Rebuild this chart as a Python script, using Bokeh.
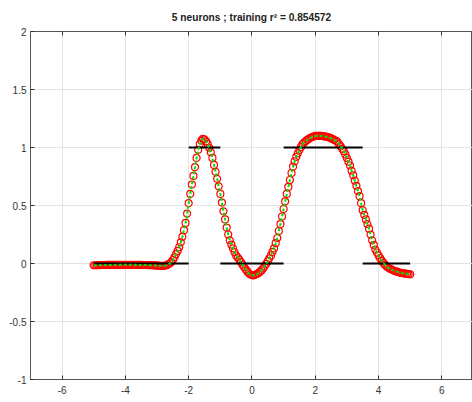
from bokeh.plotting import figure
from bokeh.models import FixedTicker, LinearAxis, Range1d, Title, ColumnDataSource
from bokeh.embed import file_html
from bokeh.resources import INLINE

title_text = "5 neurons ; training r\u00b2 = 0.854572"

# network output at the training inputs
x_out = [
    -5.0, -4.95, -4.9, -4.85, -4.8, -4.75, -4.7, -4.65, -4.6, -4.55, -4.5, -4.45, -4.4, -4.35, -4.3, -4.25, -4.2, -4.15, -4.1, -4.05,
    -4.0, -3.95, -3.9, -3.85, -3.8, -3.75, -3.7, -3.65, -3.6, -3.55, -3.5, -3.45, -3.4, -3.35, -3.3, -3.25, -3.2, -3.15, -3.1, -3.05,
    -3.0, -2.95, -2.9, -2.85, -2.8, -2.75, -2.7, -2.65, -2.6, -2.55, -2.5, -2.45, -2.4, -2.35, -2.3, -2.25, -2.2, -2.15, -2.1, -2.05,
    -2.0, -1.95, -1.9, -1.85, -1.8, -1.75, -1.7, -1.65, -1.6, -1.55, -1.5, -1.45, -1.4, -1.35, -1.3, -1.25, -1.2, -1.15, -1.1, -1.05,
    -1.0, -0.95, -0.9, -0.85, -0.8, -0.75, -0.7, -0.65, -0.6, -0.55, -0.5, -0.45, -0.4, -0.35, -0.3, -0.25, -0.2, -0.15, -0.1, -0.05,
    0.0, 0.05, 0.1, 0.15, 0.2, 0.25, 0.3, 0.35, 0.4, 0.45, 0.5, 0.55, 0.6, 0.65, 0.7, 0.75, 0.8, 0.85, 0.9, 0.95,
    1.0, 1.05, 1.1, 1.15, 1.2, 1.25, 1.3, 1.35, 1.4, 1.45, 1.5, 1.55, 1.6, 1.65, 1.7, 1.75, 1.8, 1.85, 1.9, 1.95,
    2.0, 2.05, 2.1, 2.15, 2.2, 2.25, 2.3, 2.35, 2.4, 2.45, 2.5, 2.55, 2.6, 2.65, 2.7, 2.75, 2.8, 2.85, 2.9, 2.95,
    3.0, 3.05, 3.1, 3.15, 3.2, 3.25, 3.3, 3.35, 3.4, 3.45, 3.5, 3.55, 3.6, 3.65, 3.7, 3.75, 3.8, 3.85, 3.9, 3.95,
    4.0, 4.05, 4.1, 4.15, 4.2, 4.25, 4.3, 4.35, 4.4, 4.45, 4.5, 4.55, 4.6, 4.65, 4.7, 4.75, 4.8, 4.85, 4.9, 4.95, 5.0]
y_out = [
    -0.015, -0.015, -0.014, -0.014, -0.014, -0.013, -0.013, -0.013, -0.012, -0.012, -0.012, -0.012, -0.012, -0.012, -0.011, -0.011, -0.011, -0.011, -0.011, -0.011,
    -0.011, -0.011, -0.011, -0.011, -0.011, -0.011, -0.011, -0.012, -0.012, -0.012, -0.012, -0.013, -0.013, -0.013, -0.014, -0.014, -0.015, -0.015, -0.016, -0.017,
    -0.018, -0.019, -0.02, -0.02, -0.02, -0.018, -0.015, -0.008, 0.0, 0.013, 0.03, 0.052, 0.08, 0.108, 0.14, 0.182, 0.23, 0.287, 0.35, 0.43,
    0.52, 0.60, 0.68, 0.755, 0.83, 0.91, 0.98, 1.03, 1.06, 1.075, 1.07, 1.053, 1.03, 0.998, 0.96, 0.91, 0.85, 0.79, 0.73, 0.665,
    0.60, 0.525, 0.45, 0.38, 0.31, 0.25, 0.20, 0.162, 0.13, 0.098, 0.07, 0.052, 0.035, 0.012, -0.01, -0.03, -0.05, -0.068, -0.085, -0.095,
    -0.10, -0.103, -0.098, -0.092, -0.085, -0.073, -0.06, -0.043, -0.025, -0.003, 0.02, 0.045, 0.07, 0.10, 0.13, 0.175, 0.22, 0.28, 0.34, 0.405,
    0.47, 0.535, 0.60, 0.66, 0.72, 0.78, 0.835, 0.88, 0.92, 0.95, 0.98, 1.005, 1.03, 1.043, 1.055, 1.065, 1.075, 1.083, 1.09, 1.095,
    1.10, 1.10, 1.10, 1.10, 1.10, 1.098, 1.095, 1.093, 1.09, 1.085, 1.08, 1.073, 1.065, 1.058, 1.05, 1.03, 1.01, 0.99, 0.97, 0.94,
    0.91, 0.878, 0.845, 0.80, 0.76, 0.715, 0.67, 0.625, 0.58, 0.52, 0.46, 0.42, 0.38, 0.34, 0.30, 0.25, 0.20, 0.16, 0.12, 0.095,
    0.07, 0.047, 0.025, 0.007, -0.01, -0.023, -0.035, -0.043, -0.05, -0.057, -0.063, -0.068, -0.072, -0.076, -0.08, -0.083, -0.085, -0.088, -0.09, -0.092, -0.093]

# target step function segments
target_x0 = [-5.0, -2.0, -1.0, 1.0, 3.5]
target_x1 = [-2.0, -1.0, 1.0, 3.5, 5.0]
target_y = [0.0, 1.0, 0.0, 1.0, 0.0]

x_ticks = [-6, -4, -2, 0, 2, 4, 6]
x_tick_labels = ["-6", "-4", "-2", "0", "2", "4", "6"]
y_ticks = [-1, -0.5, 0, 0.5, 1, 1.5, 2]
y_tick_labels = ["-1", "-0.5", "0", "0.5", "1", "1.5", "2"]

p = figure(width=472, height=402, output_backend="svg", toolbar_location=None,
           x_range=Range1d(-7, 6.97), y_range=Range1d(-1, 2),
           min_border_left=30, min_border_right=0, min_border_top=31, min_border_bottom=23)
p.title = Title(text=title_text, align="center", text_font="Liberation Sans",
                text_font_size="10.2px", text_font_style="bold", text_color="#222222",
                standoff=18, offset=0)
p.outline_line_color = "#555555"
p.outline_line_width = 1
p.background_fill_color = "white"
p.border_fill_color = "white"

for ax, ticks, labels in ((p.xaxis[0], x_ticks, x_tick_labels), (p.yaxis[0], y_ticks, y_tick_labels)):
    ax.ticker = FixedTicker(ticks=ticks)
    ax.major_label_overrides = {t: l for t, l in zip(ticks, labels)}
    ax.major_tick_in = 4
    ax.major_tick_out = 0
    ax.minor_tick_in = 0
    ax.minor_tick_out = 0
    ax.axis_line_color = "#555555"
    ax.major_tick_line_color = "#333333"
    ax.major_label_text_font = "Liberation Sans"
    ax.major_label_text_font_size = "10px"
    ax.major_label_text_color = "#333333"
p.xaxis.major_label_standoff = 6
p.yaxis.major_label_standoff = 4

top_ax = LinearAxis(ticker=FixedTicker(ticks=x_ticks), major_tick_in=4, major_tick_out=0,
                    minor_tick_in=0, minor_tick_out=0,
                    major_label_overrides={t: "" for t in x_ticks},
                    major_label_standoff=0, axis_line_color="#555555",
                    major_tick_line_color="#333333")
p.add_layout(top_ax, "above")

p.xgrid.ticker = FixedTicker(ticks=x_ticks)
p.ygrid.ticker = FixedTicker(ticks=y_ticks)
p.grid.grid_line_color = "#e3e3e3"
p.grid.grid_line_width = 1

src = ColumnDataSource(dict(x=x_out, y=y_out))
p.scatter("x", "y", source=src, marker="circle", size=7, fill_color=None,
          line_color="#ff0000", line_width=1.2)
p.segment(x0=target_x0, y0=target_y, x1=target_x1, y1=target_y, line_color="black", line_width=2)
p.line("x", "y", source=src, line_color="#00e000", line_width=2, line_dash="3 2")

open("out.html", "w").write(file_html(p, INLINE))
